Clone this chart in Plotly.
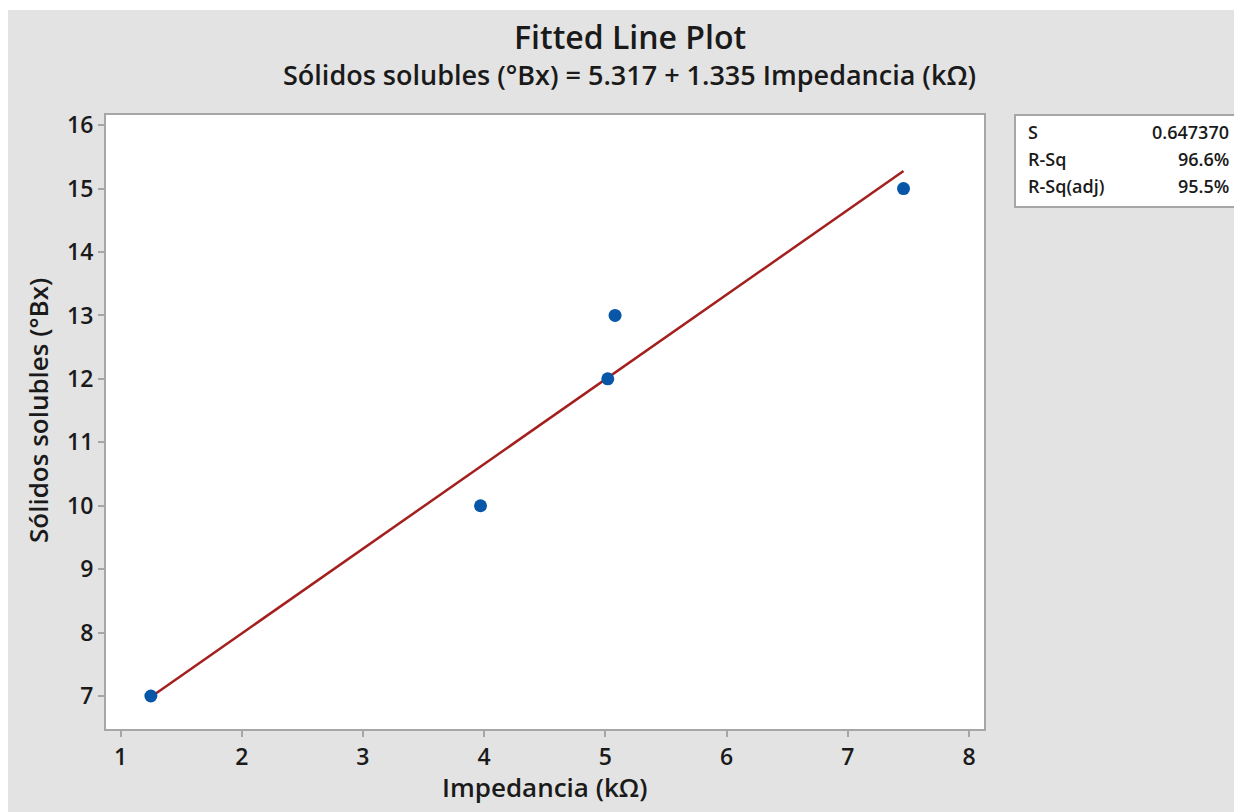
import plotly.graph_objects as go
import numpy as np

# Data
impedancia = [1.25, 3.97, 5.02, 5.08, 7.46]
solidos = [7.0, 10.0, 12.0, 13.0, 15.0]
intercept = 5.317
slope = 1.335
stat_labels = ["S", "R-Sq", "R-Sq(adj)"]
stat_values = ["0.647370", "96.6%", "95.5%"]
x_ticks = [1, 2, 3, 4, 5, 6, 7, 8]
y_ticks = [7, 8, 9, 10, 11, 12, 13, 14, 15, 16]

OFF = 8  # page body margin
W, H = 1242 - OFF, 812 - OFF
L, R, T, B = 106 - OFF, 984 - OFF, 115 - OFF, 729 - OFF


def px(p):
    """page pixel x -> paper"""
    return (p - OFF - L) / (R - L)


def py(p):
    """page pixel y -> paper"""
    return (B - (p - OFF)) / (B - T)


xfit = np.array([min(impedancia), max(impedancia)])
yfit = intercept + slope * xfit

FONT = "Open Sans"
TXT = "#1a1a1a"
fig = go.Figure()
fig.add_trace(go.Scatter(x=xfit, y=yfit, mode="lines",
                         line=dict(color="#A3201F", width=2.5), showlegend=False))
fig.add_trace(go.Scatter(x=impedancia, y=solidos, mode="markers",
                         marker=dict(color="#0756A8", size=13), showlegend=False))

axis_common = dict(showgrid=False, zeroline=False, showline=True, mirror=True,
                   linecolor="#a6a6a6", linewidth=2, ticks="outside", ticklen=6,
                   tickcolor="#a6a6a6", tickwidth=2,
                   tickfont=dict(family=FONT, size=23, color=TXT, weight=600))

fig.update_xaxes(range=[0.88, 8.124], tickvals=x_ticks, **axis_common)
fig.update_yaxes(range=[6.48, 16.16], tickvals=y_ticks, **axis_common)

shapes = [
    dict(type="rect", xref="paper", yref="paper", x0=px(-20), x1=px(1300), y0=py(10), y1=py(-20),
         fillcolor="white", line=dict(width=0), layer="above"),
    dict(type="rect", xref="paper", yref="paper", x0=px(1015), x1=px(1238), y0=py(207), y1=py(115),
         fillcolor="white", line=dict(color="#a6a6a6", width=2)),
]

annotations = [
    dict(text="Fitted Line Plot", x=px(630), y=py(37), xref="paper", yref="paper",
         showarrow=False, xanchor="center", yanchor="middle",
         font=dict(family=FONT, size=32, color=TXT, weight=600)),
    dict(text="Sólidos solubles (°Bx) = 5.317 + 1.335 Impedancia (kΩ)", x=px(629), y=py(75),
         xref="paper", yref="paper", showarrow=False, xanchor="center", yanchor="middle",
         font=dict(family=FONT, size=27, color=TXT, weight=600)),
    dict(text="Impedancia (kΩ)", x=px(544), y=py(787), xref="paper", yref="paper",
         showarrow=False, xanchor="center", yanchor="middle",
         font=dict(family=FONT, size=26, color=TXT, weight=600)),
    dict(text="Sólidos solubles (°Bx)", x=px(38), y=py(411), xref="paper", yref="paper",
         showarrow=False, xanchor="center", yanchor="middle", textangle=-90,
         font=dict(family=FONT, size=26, color=TXT, weight=600)),
]
row_y = [132, 159, 186]
for lab, val, yy in zip(stat_labels, stat_values, row_y):
    annotations.append(dict(text=lab, x=px(1026), y=py(yy), xref="paper", yref="paper",
                            showarrow=False, xanchor="left", yanchor="middle",
                            font=dict(family=FONT, size=18, color=TXT, weight=600)))
    annotations.append(dict(text=val, x=px(1231), y=py(yy), xref="paper", yref="paper",
                            showarrow=False, xanchor="right", yanchor="middle",
                            font=dict(family=FONT, size=18, color=TXT, weight=600)))

fig.update_layout(width=W, height=H, autosize=False,
                  margin=dict(l=L, r=W - R, t=T, b=H - B),
                  paper_bgcolor="#e3e3e3", plot_bgcolor="white",
                  shapes=shapes, annotations=annotations, showlegend=False)

fig.write_html("out.html")
